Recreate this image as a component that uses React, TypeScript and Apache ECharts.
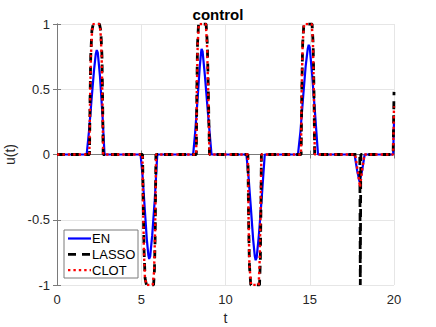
import React, { useEffect, useRef } from "react";
import * as echarts from "echarts";

const xTicks = [0, 5, 10, 15, 20];
const yTicks = [-1, -0.5, 0, 0.5, 1];
const seriesNames = ["EN", "LASSO", "CLOT"];

const enT = [0, 1.76, 1.9, 2.05, 2.2, 2.3, 2.36, 2.42, 2.55, 2.7, 2.82,
  4.96, 5.07, 5.2, 5.33, 5.42, 5.47, 5.53, 5.65, 5.8, 5.95,
  8.08, 8.2, 8.34, 8.47, 8.55, 8.58, 8.64, 8.78, 8.97, 9.17,
  11.24, 11.36, 11.5, 11.64, 11.74, 11.79, 11.85, 11.98, 12.15, 12.33,
  14.3, 14.45, 14.6, 14.76, 14.88, 14.94, 15.0, 15.13, 15.3, 15.49,
  17.66, 17.81, 17.96, 18.11, 18.26, 19.95, 20];
const enU = [0, 0, 0.18, 0.42, 0.65, 0.77, 0.8, 0.78, 0.6, 0.3, 0,
  0, -0.15, -0.4, -0.65, -0.77, -0.8, -0.78, -0.62, -0.35, 0,
  0, 0.17, 0.42, 0.67, 0.78, 0.81, 0.79, 0.6, 0.3, 0,
  0, -0.16, -0.4, -0.65, -0.78, -0.81, -0.79, -0.62, -0.33, 0,
  0, 0.18, 0.43, 0.68, 0.81, 0.84, 0.82, 0.63, 0.34, 0,
  0, -0.12, -0.21, -0.12, 0, 0, 0.25];

const lassoT = [0, 1.93, 1.96, 2.0, 2.07, 2.15, 2.52, 2.6, 2.67, 2.71, 2.74,
  5.08, 5.12, 5.17, 5.23, 5.31, 5.73, 5.78, 5.83, 5.87,
  8.27, 8.3, 8.34, 8.4, 8.85, 8.92, 8.98, 9.05,
  11.33, 11.37, 11.42, 11.5, 12.02, 12.07, 12.1, 12.13,
  14.49, 14.53, 14.58, 14.65, 15.14, 15.2, 15.25, 15.29,
  17.97, 18.0, 18.03, 19.95, 20];
const lassoU = [0, 0, 0.4, 0.75, 0.95, 1, 1, 0.95, 0.75, 0.4, 0,
  0, -0.4, -0.75, -0.95, -1, -1, -0.9, -0.6, 0,
  0, 0.5, 0.85, 1, 1, 0.85, 0.5, 0,
  0, -0.5, -0.85, -1, -1, -0.8, -0.45, 0,
  0, 0.5, 0.85, 1, 1, 0.85, 0.5, 0,
  0, -1, 0, 0, 0.48];

const clotT = [0, 1.92, 1.96, 2.01, 2.08, 2.16, 2.5, 2.58, 2.65, 2.7, 2.74,
  5.07, 5.11, 5.16, 5.22, 5.32, 5.68, 5.76, 5.82, 5.88,
  8.26, 8.3, 8.35, 8.42, 8.83, 8.9, 8.97, 9.05,
  11.33, 11.37, 11.42, 11.52, 11.97, 12.03, 12.08, 12.13,
  14.48, 14.52, 14.58, 14.66, 15.12, 15.19, 15.24, 15.3,
  17.7, 17.85, 17.98, 18.1, 18.24, 19.95, 20];
const clotU = [0, 0, 0.4, 0.75, 0.95, 1, 1, 0.95, 0.75, 0.4, 0,
  0, -0.4, -0.75, -0.95, -1, -1, -0.9, -0.6, 0,
  0, 0.5, 0.85, 1, 1, 0.85, 0.5, 0,
  0, -0.5, -0.85, -1, -1, -0.8, -0.45, 0,
  0, 0.5, 0.85, 1, 1, 0.85, 0.5, 0,
  0, -0.13, -0.25, -0.13, 0, 0, 0.37];

const zip = (t: number[], u: number[]) => t.map((v, i) => [v, u[i]]);

const FONT = "'Liberation Sans', Arial, Helvetica, sans-serif";
const AXIS_COLOR = "#7a7a7a";
const TEXT_COLOR = "#262626";

const EN_STYLE = { color: "#0000ff", width: 2.2, dash: null as number[] | null };
const LASSO_STYLE = { color: "#000000", width: 2.8, dash: [8, 6] as number[] | null };
const CLOT_STYLE = { color: "#ff0000", width: 2.4, dash: [2.4, 3] as number[] | null };
const STYLES = [EN_STYLE, LASSO_STYLE, CLOT_STYLE];

export default function App() {
  const ref = useRef<HTMLDivElement>(null);
  useEffect(() => {
    if (!ref.current) return;
    const chart = echarts.init(ref.current, undefined, { renderer: "svg" });
    const baseAxis = {
      axisLine: { show: true, lineStyle: { color: AXIS_COLOR, width: 1 } },
      axisTick: { show: true, inside: true, length: 4, lineStyle: { color: AXIS_COLOR } },
    };

    const legendX = 64, legendY = 230, legendW = 74, legendH = 48, rowH = 15.8;
    const legendChildren: any[] = [
      {
        type: "rect",
        shape: { x: legendX, y: legendY, width: legendW, height: legendH },
        style: { fill: "#fff", stroke: AXIS_COLOR, lineWidth: 1 },
      },
    ];
    seriesNames.forEach((name, i) => {
      const st = STYLES[i];
      const cy = legendY + 8.5 + i * rowH;
      legendChildren.push({
        type: "line",
        shape: { x1: legendX + 4, y1: cy, x2: legendX + 27, y2: cy },
        style: { stroke: st.color, lineWidth: st.width, lineDash: st.dash || undefined },
      });
      legendChildren.push({
        type: "text",
        x: legendX + 28,
        y: cy,
        style: {
          text: name,
          fontFamily: FONT,
          fontSize: 13,
          fill: "#000",
          verticalAlign: "middle",
          align: "left",
        },
      });
    });

    const mkSeries = (name: string, t: number[], u: number[], i: number) => ({
      name,
      type: "line",
      data: zip(t, u),
      symbol: "none",
      showSymbol: false,
      lineStyle: {
        color: STYLES[i].color,
        width: STYLES[i].width,
        type: STYLES[i].dash || "solid",
      },
      itemStyle: { color: STYLES[i].color },
      z: 2 + i,
    });

    chart.setOption({
      animation: false,
      backgroundColor: "#fff",
      title: {
        text: "control",
        left: "center",
        top: 2,
        textStyle: { fontFamily: FONT, fontSize: 15, fontWeight: "bold", color: "#000" },
      },
      grid: {
        left: 57,
        right: 42,
        top: 24,
        bottom: 42,
        show: false,
        containLabel: false,
        outerBoundsMode: "none",
      },
      xAxis: [
        {
          ...baseAxis,
          type: "value",
          min: xTicks[0],
          max: xTicks[xTicks.length - 1],
          interval: 5,
          name: "t",
          nameLocation: "middle",
          nameGap: 26,
          nameTextStyle: { fontFamily: FONT, fontSize: 14, color: TEXT_COLOR },
          axisLabel: { fontFamily: FONT, fontSize: 13, color: TEXT_COLOR, margin: 8 },
          splitLine: { show: true, lineStyle: { color: "#e6e6e6", width: 1 } },
        },
        {
          ...baseAxis,
          type: "value",
          position: "top",
          min: xTicks[0],
          max: xTicks[xTicks.length - 1],
          interval: 5,
          axisLabel: { show: false },
          splitLine: { show: false },
        },
      ],
      yAxis: [
        {
          ...baseAxis,
          type: "value",
          min: yTicks[0],
          max: yTicks[yTicks.length - 1],
          interval: 0.5,
          name: "u(t)",
          nameLocation: "middle",
          nameGap: 32,
          nameRotate: 90,
          nameTextStyle: { fontFamily: FONT, fontSize: 14, color: TEXT_COLOR },
          axisLabel: { fontFamily: FONT, fontSize: 13, color: TEXT_COLOR, margin: 7 },
          splitLine: { show: true, lineStyle: { color: "#e6e6e6", width: 1 } },
        },
        {
          ...baseAxis,
          type: "value",
          position: "right",
          min: yTicks[0],
          max: yTicks[yTicks.length - 1],
          interval: 0.5,
          axisLabel: { show: false },
          splitLine: { show: false },
        },
      ],
      graphic: [{ type: "group", z: 100, children: legendChildren }],
      series: [
        mkSeries(seriesNames[0], enT, enU, 0),
        mkSeries(seriesNames[1], lassoT, lassoU, 1),
        mkSeries(seriesNames[2], clotT, clotU, 2),
      ],
    });
    return () => chart.dispose();
  }, []);
  return (
    <div
      ref={ref}
      style={{ position: "absolute", left: 0, top: 0, width: 436, height: 327 }}
    />
  );
}
